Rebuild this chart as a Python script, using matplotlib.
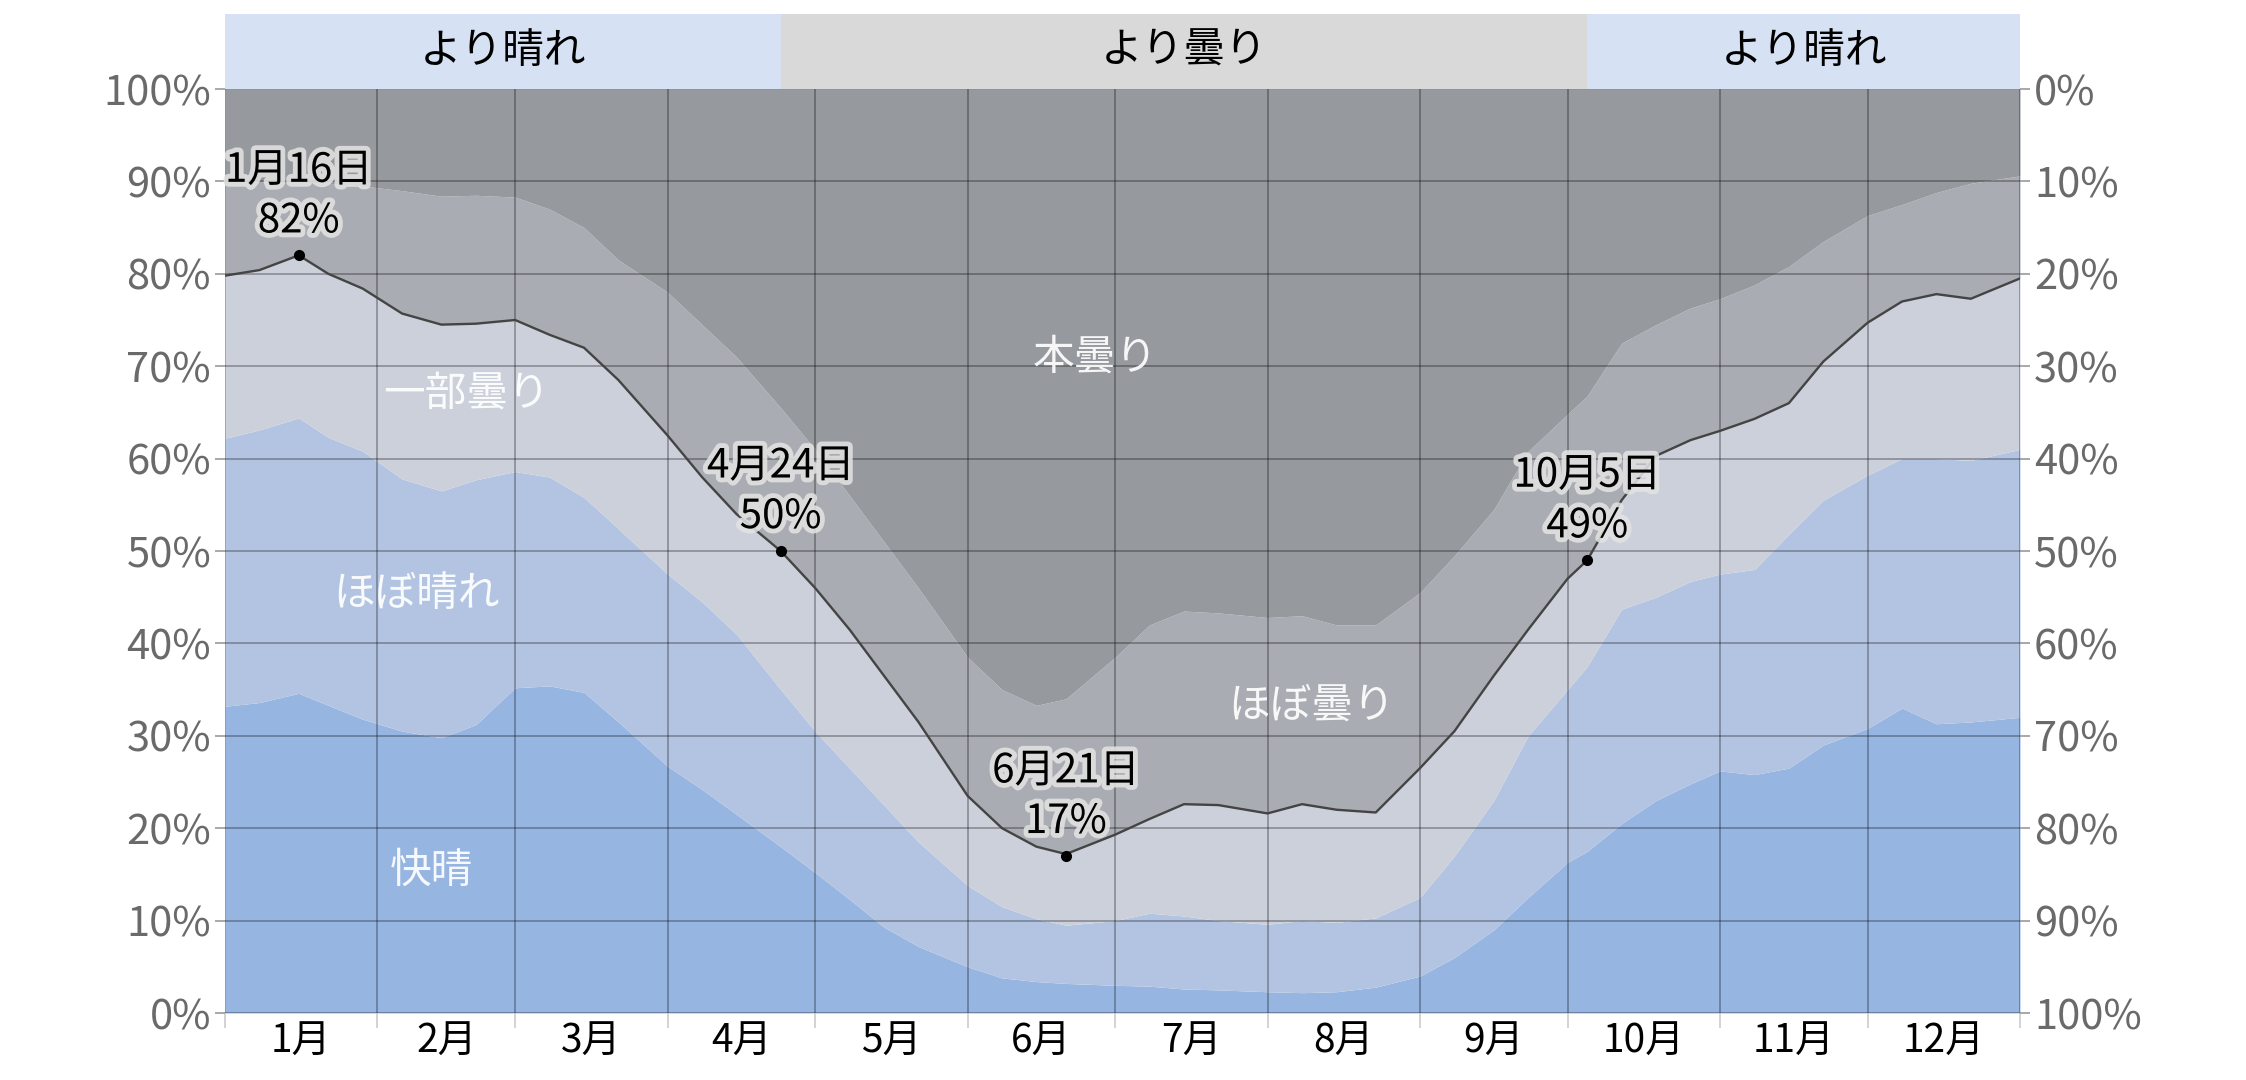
import numpy as np
import matplotlib
matplotlib.use("Agg")
import matplotlib.pyplot as plt
import matplotlib.patheffects as pe

plt.rcParams['font.family'] = ['Noto Sans CJK JP', 'DejaVu Sans']

# day of year (0 = Jan 1)
days = [0, 7, 15, 21, 28, 36, 44, 51, 59, 66, 73, 80, 90, 97, 104, 113,
        120, 127, 134, 141, 151, 158, 165, 171, 181, 188, 195, 202, 212,
        219, 226, 234, 243, 250, 258, 265, 273, 277, 284, 291, 298, 304,
        311, 318, 325, 334, 341, 348, 355, 365]

# cumulative percentages (top of each band)
clear = [33.2, 33.6, 34.6, 33.3, 31.8, 30.5, 29.8, 31.2, 35.2, 35.4, 34.7,
         31.5, 26.7, 24.2, 21.5, 18.0, 15.2, 12.3, 9.3, 7.2, 5.0, 3.8, 3.4,
         3.2, 3.0, 2.9, 2.6, 2.5, 2.3, 2.2, 2.3, 2.8, 4.0, 6.0, 9.0, 12.5,
         16.3, 17.5, 20.5, 23.0, 24.8, 26.2, 25.8, 26.5, 29.0, 30.8, 33.0,
         31.3, 31.5, 32.0]
mostly_clear = [62.2, 63.1, 64.4, 62.3, 60.8, 57.8, 56.5, 57.7, 58.6, 58.0,
                55.8, 52.4, 47.5, 44.5, 41.0, 35.0, 30.5, 26.5, 22.5, 18.5,
                13.8, 11.5, 10.2, 9.5, 10.0, 10.8, 10.5, 10.0, 9.6, 10.0,
                9.8, 10.3, 12.5, 17.0, 23.0, 30.0, 35.0, 37.5, 43.7, 45.0,
                46.7, 47.5, 48.0, 51.8, 55.5, 58.2, 60.0, 60.0, 59.8, 61.0]
partly_cloudy = [79.8, 80.4, 82.0, 80.0, 78.4, 75.7, 74.5, 74.6, 75.0, 73.4,
                 72.0, 68.5, 62.5, 58.0, 54.0, 50.0, 46.0, 41.5, 36.5, 31.5,
                 23.5, 20.0, 18.0, 17.2, 19.3, 21.0, 22.6, 22.5, 21.6, 22.6,
                 22.0, 21.7, 26.5, 30.5, 36.5, 41.5, 47.0, 49.0, 55.5, 60.3,
                 62.0, 63.0, 64.3, 66.0, 70.5, 74.7, 77.0, 77.8, 77.3, 79.5]
mostly_cloudy = [90.3, 90.0, 89.8, 89.8, 89.5, 89.0, 88.4, 88.5, 88.3, 87.0,
                 85.0, 81.5, 78.0, 74.5, 71.0, 65.5, 61.0, 56.0, 51.0, 46.0,
                 38.5, 35.0, 33.3, 34.0, 38.5, 42.0, 43.5, 43.3, 42.8, 43.0,
                 42.0, 42.0, 45.5, 49.5, 54.5, 60.8, 64.8, 66.8, 72.5, 74.5,
                 76.3, 77.3, 78.8, 80.8, 83.5, 86.3, 87.5, 88.8, 89.8, 90.6]

month_edges = [0, 31, 59, 90, 120, 151, 181, 212, 243, 273, 304, 334, 365]
month_labels = ['1月', '2月', '3月', '4月', '5月', '6月', '7月', '8月', '9月',
                '10月', '11月', '12月']

band_edges = [0, 113, 277, 365]
band_labels = ['より晴れ', 'より曇り', 'より晴れ']

annot_days = [15, 113, 171, 277]
annot_vals = [82, 50, 17, 49]
annot_labels = ['1月16日', '4月24日', '6月21日', '10月5日']

area_labels = ['快晴', 'ほぼ晴れ', '一部曇り', 'ほぼ曇り', '本曇り']
area_pos = [(42, 15.3), (39, 45.3), (49, 67.0), (221, 33.2), (177, 70.9)]

colors = ['#97b5e1', '#b2c4e2', '#cbd0da', '#a9acb2', '#96999e']
band_colors = ['#d6e2f3', '#d9d9d9', '#d6e2f3']

W, H = 2246, 1080
fig = plt.figure(figsize=(W / 100, H / 100), dpi=100)
left, right, top, bottom = 225, 2020, 89, 1013
ax = fig.add_axes([left / W, 1 - bottom / H, (right - left) / W,
                   (bottom - top) / H])

# stacked areas
layers = [np.zeros(len(days)), clear, mostly_clear, partly_cloudy,
          mostly_cloudy, np.full(len(days), 100.0)]
for i in range(5):
    ax.fill_between(days, layers[i], layers[i + 1], color=colors[i],
                    lw=0, zorder=1)
ax.plot(days, partly_cloudy, color='#444444', lw=1.7, zorder=3)

ax.set_xlim(0, 365)
ax.set_ylim(0, 100)
for s in ax.spines.values():
    s.set_visible(False)

ax.set_xticks(month_edges)
ax.set_xticklabels([])
mids = [(a + b) / 2 for a, b in zip(month_edges[:-1], month_edges[1:])]
ax.set_xticks(mids, minor=True)
ax.set_xticklabels(month_labels, minor=True, fontsize=28, color='black')
ax.tick_params(axis='x', which='major', length=11, color='#cccccc',
               width=1.2)
ax.tick_params(axis='x', which='minor', length=0, pad=6)

yt = list(range(0, 101, 10))
ax.set_yticks(yt)
ax.set_yticklabels([f"{v}%" for v in yt], fontsize=30, color='#6a6a6a')
ax.tick_params(axis='y', length=7, color='#999999', width=1.2, pad=3)
ax.grid(True, which='major', color='black', alpha=0.3, lw=1.3, zorder=2)
ax.set_axisbelow(False)

ax2 = ax.twinx()
ax2.set_ylim(100, 0)
ax2.set_yticks(yt)
ax2.set_yticklabels([f"{v}%" for v in yt], fontsize=30, color='#6a6a6a')
ax2.tick_params(axis='y', length=7, color='#999999', width=1.2, pad=3)
for s in ax2.spines.values():
    s.set_visible(False)

# area labels
for txt, (x, y) in zip(area_labels, area_pos):
    ax.text(x, y, txt, ha='center', va='center', fontsize=30,
            color='white', alpha=0.92, zorder=4)

# annotations
halo = [pe.withStroke(linewidth=7, foreground='#e4e4e4', alpha=0.85)]
for d, v, lab in zip(annot_days, annot_vals, annot_labels):
    ax.plot(d, v, 'o', color='black', ms=7, zorder=5)
    ax.annotate(f"{lab}\n{v}%", xy=(d, v), xytext=(0, 10),
                textcoords='offset points', ha='center', va='bottom',
                fontsize=29, color='black', linespacing=1.3,
                path_effects=halo, zorder=6)

# top band
bax = fig.add_axes([left / W, 1 - top / H, (right - left) / W, 75 / H])
bax.set_xlim(0, 365)
bax.set_ylim(0, 1)
for a, b, lab, c in zip(band_edges[:-1], band_edges[1:], band_labels,
                        band_colors):
    bax.axvspan(a, b, color=c, lw=0)
    bax.text((a + b) / 2, 0.5, lab, ha='center', va='center', fontsize=30,
             color='black')
bax.axis('off')

fig.savefig('out.png', dpi=100)
